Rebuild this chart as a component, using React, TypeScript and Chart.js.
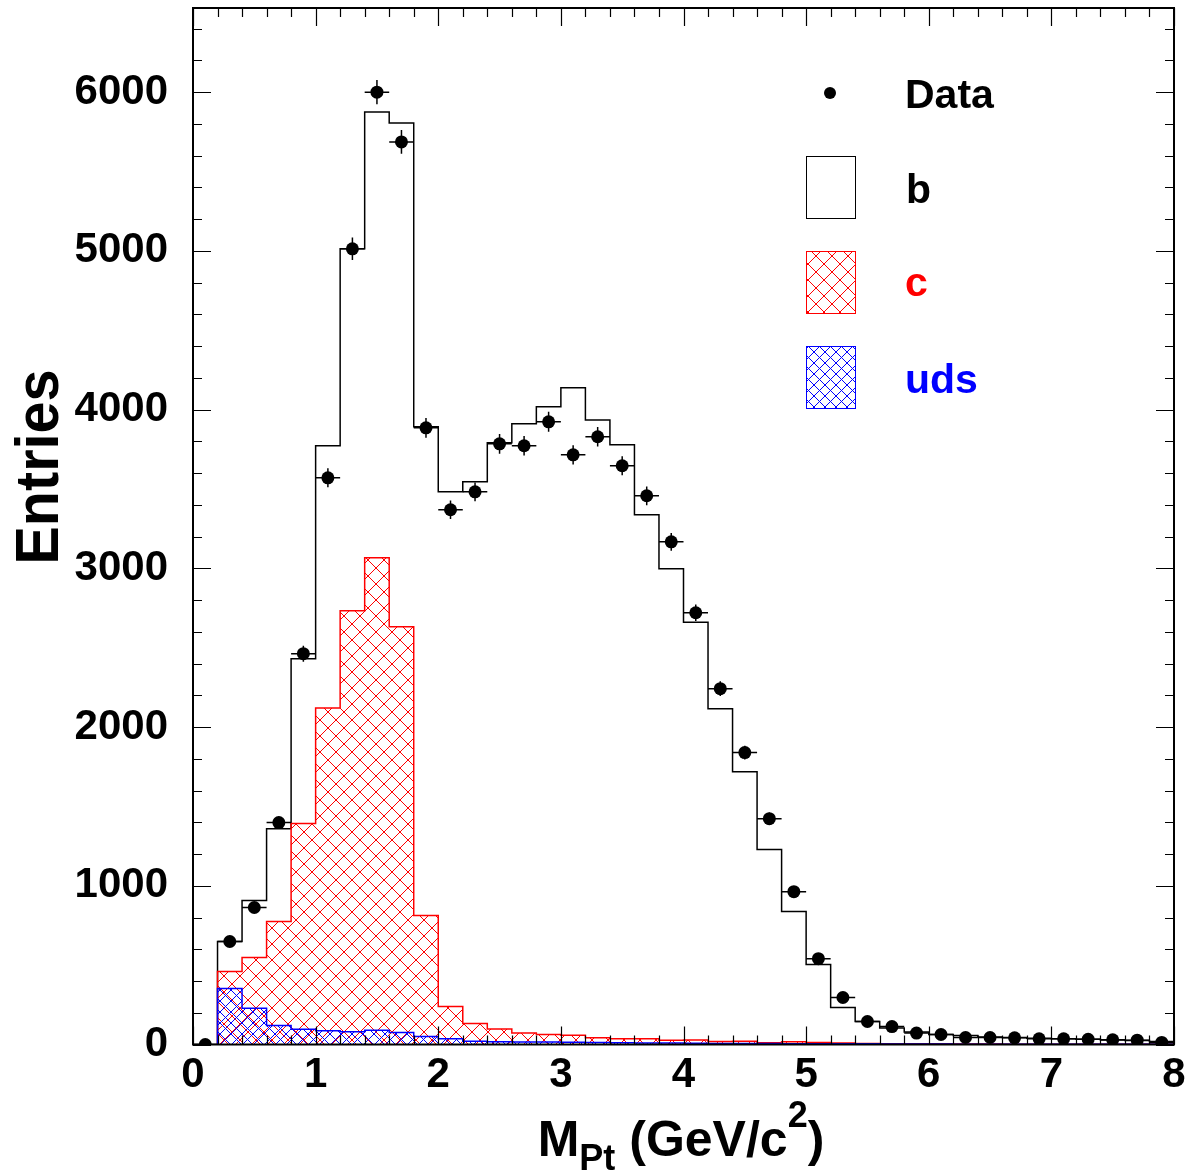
import React, { useEffect, useRef } from "react";
import { Chart, registerables } from "chart.js";

Chart.register(...registerables);

// Histogram bin edges (GeV/c^2)
const binEdges = [
  0.2, 0.4, 0.6, 0.8, 1.0, 1.2, 1.4, 1.6, 1.8, 2.0,
  2.2, 2.4, 2.6, 2.8, 3.0, 3.2, 3.4, 3.6, 3.8, 4.0,
  4.2, 4.4, 4.6, 4.8, 5.0, 5.2, 5.4, 5.6, 5.8, 6.0,
  6.2, 6.4, 6.6, 6.8, 7.0, 7.2, 7.4, 7.6, 7.8, 8.0,
];

// b histogram (top of stacked MC)
const bValues = [
  649, 907, 1360, 2431, 3772, 5013, 5875, 5806, 3892, 3482,
  3545, 3791, 3910, 4018, 4137, 3935, 3778, 3338, 2997, 2660,
  2116, 1719, 1228, 838, 504, 233, 145, 104, 79, 63,
  57, 48, 44, 40, 36, 33, 29, 25, 19,
];

// c histogram
const cValues = [
  460, 548, 775, 1392, 2120, 2733, 3067, 2632, 812, 239,
  132, 98, 73, 63, 59, 42, 36, 36, 27, 28,
  19, 20, 11, 17, 13, 9, 6, 5, 4, 4,
  3, 3, 2, 2, 2, 1, 1, 1, 1,
];

// uds histogram
const udsValues = [
  353, 228, 120, 96, 87, 80, 90, 75, 51, 36,
  21, 17, 16, 15, 14, 12, 11, 10, 9, 8,
  7, 6, 6, 5, 5, 4, 4, 3, 3, 3,
  2, 2, 2, 2, 2, 1, 1, 1, 1,
];

// Data points
const dataCenters = [
  0.1, 0.3, 0.5, 0.7, 0.9, 1.1, 1.3, 1.5, 1.7, 1.9,
  2.1, 2.3, 2.5, 2.7, 2.9, 3.1, 3.3, 3.5, 3.7, 3.9,
  4.1, 4.3, 4.5, 4.7, 4.9, 5.1, 5.3, 5.5, 5.7, 5.9,
  6.1, 6.3, 6.5, 6.7, 6.9, 7.1, 7.3, 7.5, 7.7, 7.9,
];
const dataValues = [
  0, 649, 863, 1398, 2462, 3570, 5013, 6000, 5686, 3885,
  3369, 3482, 3784, 3772, 3923, 3715, 3829, 3646, 3457, 3167,
  2720, 2242, 1839, 1423, 963, 541, 296, 145, 113, 72,
  63, 44, 44, 42, 36, 36, 33, 30, 27, 13,
];
const dataErrors = [
  0, 25, 29, 37, 50, 60, 71, 77, 75, 62,
  58, 59, 62, 61, 63, 61, 62, 60, 59, 56,
  52, 47, 43, 38, 31, 23, 17, 12, 11, 8,
  8, 7, 7, 6, 6, 6, 6, 5, 5, 4,
];
const binHalfWidth = 0.1;

const xTickValues = [0, 1, 2, 3, 4, 5, 6, 7, 8];
const xTickLabels = ["0", "1", "2", "3", "4", "5", "6", "7", "8"];
const yTickValues = [0, 1000, 2000, 3000, 4000, 5000, 6000];
const yTickLabels = ["0", "1000", "2000", "3000", "4000", "5000", "6000"];

const legendLabels = ["Data", "b", "c", "uds"];
const xTitleMain = "M";
const xTitleSub = "Pt";
const xTitleMid = " (GeV/c";
const xTitleSup = "2";
const xTitleEnd = ")";
const yTitle = "Entries";

const FONT = "'Liberation Sans', Arial, Helvetica, sans-serif";
const RED = "#ff0000";
const BLUE = "#0000ff";

function makeHatch(color: string, period: number): CanvasPattern | string {
  const c = document.createElement("canvas");
  c.width = period;
  c.height = period;
  const g = c.getContext("2d");
  if (!g) return color;
  g.strokeStyle = color;
  g.lineWidth = 1;
  g.beginPath();
  g.moveTo(-1, -1);
  g.lineTo(period + 1, period + 1);
  g.moveTo(period + 1, -1);
  g.lineTo(-1, period + 1);
  g.stroke();
  const p = g.createPattern(c, "repeat");
  return p || color;
}

function histPoints(values: number[]) {
  const pts: { x: number; y: number }[] = [];
  pts.push({ x: binEdges[0], y: 0 });
  values.forEach((v, i) => pts.push({ x: binEdges[i], y: v }));
  const last = binEdges[binEdges.length - 1];
  pts.push({ x: last, y: values[values.length - 1] });
  pts.push({ x: last, y: 0 });
  return pts;
}

export default function App() {
  const ref = useRef<HTMLCanvasElement | null>(null);

  useEffect(() => {
    const canvas = ref.current;
    if (!canvas) return;
    const redHatch = makeHatch(RED, 16);
    const blueHatch = makeHatch(BLUE, 11);

    const decorPlugin = {
      id: "decor",
      afterDatasetsDraw(chart: any) {
        const ctx = chart.ctx as CanvasRenderingContext2D;
        const xs = chart.scales.x;
        const ys = chart.scales.y;
        const area = chart.chartArea;
        // error bars
        ctx.save();
        ctx.beginPath();
        ctx.rect(area.left, area.top, area.right - area.left, area.bottom - area.top);
        ctx.clip();
        ctx.strokeStyle = "#000";
        ctx.lineWidth = 1.5;
        dataCenters.forEach((xc, i) => {
          const v = dataValues[i];
          const e = dataErrors[i];
          const py = ys.getPixelForValue(v);
          const px = xs.getPixelForValue(xc);
          ctx.beginPath();
          ctx.moveTo(xs.getPixelForValue(xc - binHalfWidth), py);
          ctx.lineTo(xs.getPixelForValue(xc + binHalfWidth), py);
          if (e > 0) {
            ctx.moveTo(px, ys.getPixelForValue(v - e));
            ctx.lineTo(px, ys.getPixelForValue(v + e));
          }
          ctx.stroke();
        });
        ctx.restore();
      },
      afterDraw(chart: any) {
        const ctx = chart.ctx as CanvasRenderingContext2D;
        const xs = chart.scales.x;
        const ys = chart.scales.y;
        const a = chart.chartArea;
        ctx.save();
        // tick marks (inside, all four sides)
        ctx.strokeStyle = "#000";
        ctx.lineWidth = 1.2;
        ctx.beginPath();
        for (let k = 0; k <= 40; k++) {
          const v = k * 0.2;
          const px = Math.round(xs.getPixelForValue(v)) + 0.5;
          const len = k % 5 === 0 ? 18 : 9;
          ctx.moveTo(px, a.bottom);
          ctx.lineTo(px, a.bottom - len);
          ctx.moveTo(px, a.top);
          ctx.lineTo(px, a.top + len);
        }
        for (let k = 0; k * 200 <= ys.max; k++) {
          const v = k * 200;
          const py = Math.round(ys.getPixelForValue(v)) + 0.5;
          const len = k % 5 === 0 ? 18 : 9;
          ctx.moveTo(a.left, py);
          ctx.lineTo(a.left + len, py);
          ctx.moveTo(a.right, py);
          ctx.lineTo(a.right - len, py);
        }
        ctx.stroke();
        // frame
        ctx.lineWidth = 2;
        ctx.strokeRect(a.left, a.top, a.right - a.left, a.bottom - a.top);

        // y title
        ctx.fillStyle = "#000";
        ctx.save();
        ctx.translate(58, 467);
        ctx.rotate(-Math.PI / 2);
        ctx.font = `bold 62px ${FONT}`;
        ctx.textAlign = "center";
        ctx.textBaseline = "alphabetic";
        ctx.fillText(yTitle, 0, 0, 195);
        ctx.restore();

        // x title with sub/superscript
        const big = `bold 50px ${FONT}`;
        const small = `bold 36px ${FONT}`;
        ctx.textAlign = "left";
        ctx.textBaseline = "alphabetic";
        ctx.font = big;
        const wM = ctx.measureText(xTitleMain).width;
        const wMid = ctx.measureText(xTitleMid).width;
        const wEnd = ctx.measureText(xTitleEnd).width;
        ctx.font = small;
        const wSub = ctx.measureText(xTitleSub).width;
        const wSup = ctx.measureText(xTitleSup).width;
        const total = wM + wSub + wMid + wSup + wEnd;
        let x0 = 681 - total / 2;
        const base = 1156;
        ctx.font = big;
        ctx.fillText(xTitleMain, x0, base);
        x0 += wM;
        ctx.font = small;
        ctx.fillText(xTitleSub, x0, base + 14);
        x0 += wSub;
        ctx.font = big;
        ctx.fillText(xTitleMid, x0, base);
        x0 += wMid;
        ctx.font = small;
        ctx.fillText(xTitleSup, x0, base - 29);
        x0 += wSup;
        ctx.font = big;
        ctx.fillText(xTitleEnd, x0, base);

        // legend
        const lf = `bold 41px ${FONT}`;
        ctx.font = lf;
        // Data
        ctx.fillStyle = "#000";
        ctx.beginPath();
        ctx.arc(830, 93, 6, 0, Math.PI * 2);
        ctx.fill();
        ctx.fillText(legendLabels[0], 905, 108);
        // b
        ctx.lineWidth = 1;
        ctx.strokeStyle = "#000";
        ctx.fillStyle = "#fff";
        ctx.fillRect(806.5, 156.5, 49, 62);
        ctx.strokeRect(806.5, 156.5, 49, 62);
        ctx.fillStyle = "#000";
        ctx.fillText(legendLabels[1], 906, 203);
        // c
        ctx.fillStyle = redHatch as any;
        ctx.fillRect(806.5, 251.5, 49, 62);
        ctx.strokeStyle = RED;
        ctx.strokeRect(806.5, 251.5, 49, 62);
        ctx.fillStyle = RED;
        ctx.fillText(legendLabels[2], 905, 296);
        // uds
        ctx.fillStyle = blueHatch as any;
        ctx.fillRect(806.5, 346.5, 49, 62);
        ctx.strokeStyle = BLUE;
        ctx.strokeRect(806.5, 346.5, 49, 62);
        ctx.fillStyle = BLUE;
        ctx.fillText(legendLabels[3], 905, 393);
        ctx.restore();
      },
    };

    const chart = new Chart(canvas, {
      type: "line",
      data: {
        datasets: [
          {
            label: "Data",
            data: dataCenters.map((x, i) => ({ x, y: dataValues[i] })),
            showLine: false,
            pointRadius: 6.5,
            pointBackgroundColor: "#000",
            pointBorderWidth: 0,
            borderColor: "#000",
            order: 0,
          },
          {
            label: "uds",
            data: histPoints(udsValues),
            stepped: "before",
            borderColor: BLUE,
            borderWidth: 1.5,
            backgroundColor: blueHatch as any,
            fill: "origin",
            pointRadius: 0,
            order: 1,
          },
          {
            label: "c",
            data: histPoints(cValues),
            stepped: "before",
            borderColor: RED,
            borderWidth: 1.5,
            backgroundColor: redHatch as any,
            fill: "origin",
            pointRadius: 0,
            order: 2,
          },
          {
            label: "b",
            data: histPoints(bValues),
            stepped: "before",
            borderColor: "#000",
            borderWidth: 1.5,
            fill: false,
            pointRadius: 0,
            order: 3,
          },
        ] as any,
      },
      options: {
        responsive: false,
        animation: false,
        devicePixelRatio: 1,
        layout: { padding: { left: 0, right: 22, top: 8, bottom: 0 } },
        plugins: {
          legend: { display: false },
          tooltip: { enabled: false },
        },
        scales: {
          x: {
            type: "linear",
            min: 0,
            max: 8,
            afterBuildTicks: (s: any) => {
              s.ticks = xTickValues.map((v) => ({ value: v }));
            },
            afterFit: (s: any) => {
              s.height = 130.5;
              s.paddingLeft = 0;
              s.paddingRight = 0;
            },
            grid: { display: false, drawTicks: false },
            border: { display: false },
            ticks: {
              autoSkip: false,
              maxRotation: 0,
              minRotation: 0,
              padding: 6,
              color: "#000",
              font: { family: FONT, size: 42, weight: "bold" },
              callback: (_v: any, i: number) => xTickLabels[i] ?? "",
            },
          },
          y: {
            type: "linear",
            min: 0,
            max: 6530,
            afterBuildTicks: (s: any) => {
              s.ticks = yTickValues.map((v) => ({ value: v }));
            },
            afterFit: (s: any) => {
              s.width = 193;
              s.paddingTop = 0;
              s.paddingBottom = 0;
            },
            grid: { display: false, drawTicks: false },
            border: { display: false },
            ticks: {
              autoSkip: false,
              padding: 25,
              color: "#000",
              font: { family: FONT, size: 42, weight: "bold" },
              callback: (_v: any, i: number) => yTickLabels[i] ?? "",
            },
          },
        },
      } as any,
      plugins: [decorPlugin],
    });
    return () => chart.destroy();
  }, []);

  return (
    <div style={{ position: "absolute", left: 0, top: 0, width: 1196, height: 1175, background: "#fff" }}>
      <canvas ref={ref} width={1196} height={1175} style={{ display: "block", width: 1196, height: 1175 }} />
    </div>
  );
}
